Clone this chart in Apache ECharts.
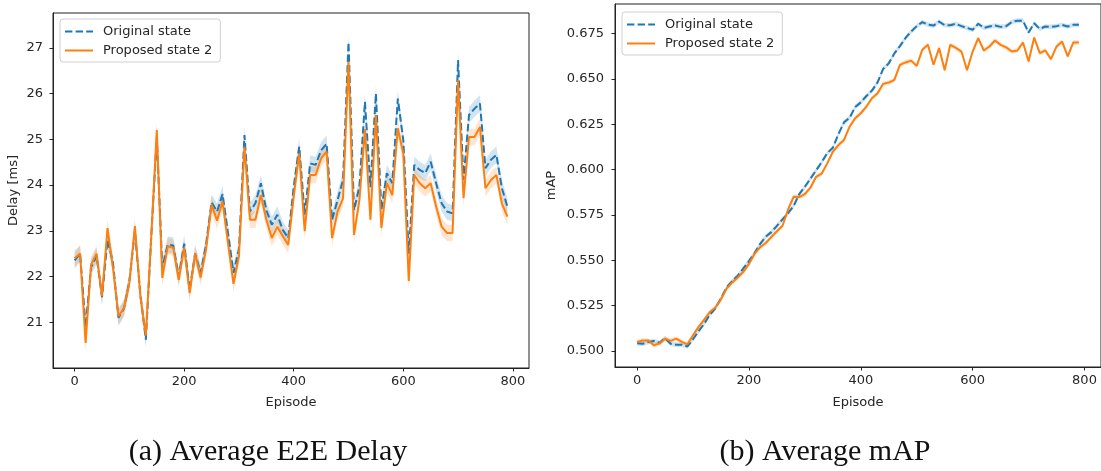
<!DOCTYPE html>
<html>
<head>
<meta charset="utf-8">
<script src="https://cdn.jsdelivr.net/npm/echarts@6/dist/echarts.min.js"></script>
<style>
html,body{margin:0;padding:0;background:#fff;}
#chart{width:1101px;height:471px;}
</style>
</head>
<body>
<div id="chart"></div>
<script>
// ---------- DATA ----------
const episodes = [0,10,20,30,40,50,60,70,80,90,100,110,120,130,140,150,160,170,180,190,
  200,210,220,230,240,250,260,270,280,290,300,310,320,330,340,350,360,370,380,390,
  400,410,420,430,440,450,460,470,480,490,500,510,520,530,540,550,560,570,580,590,
  600,610,620,630,640,650,660,670,680,690,700,710,720,730,740,750,760,770,780,790];

const delayOriginal = [22.35,22.50,20.90,22.20,22.45,21.55,22.80,22.30,21.10,21.30,
  21.90,23.00,21.60,20.62,22.90,25.05,22.20,22.70,22.68,22.00,
  22.72,21.70,22.50,22.08,22.70,23.62,23.42,23.80,22.95,22.08,
  22.60,25.09,23.42,23.60,24.04,23.45,23.13,23.35,23.02,22.84,
  23.96,24.84,23.35,24.47,24.44,24.76,24.90,23.24,23.67,24.11,
  27.12,23.45,23.97,25.82,23.95,26.00,23.46,24.26,24.04,25.89,
  24.98,22.50,24.44,24.33,24.26,24.51,24.04,23.60,23.42,23.38,
  26.73,24.11,25.53,25.67,25.78,24.37,24.55,24.66,23.93,23.53];

const delayProposed = [22.40,22.50,20.55,22.26,22.50,21.57,23.06,22.19,21.13,21.31,
  21.86,23.10,21.57,20.71,22.90,25.20,21.97,22.66,22.63,21.93,
  22.63,21.64,22.50,21.98,22.60,23.57,23.22,23.64,22.73,21.84,
  22.44,24.84,23.24,23.24,23.78,23.24,22.84,23.09,22.88,22.69,
  23.75,24.69,22.99,24.22,24.22,24.58,24.73,22.84,23.42,23.71,
  26.70,22.91,23.68,25.22,23.24,25.53,23.06,24.04,23.78,25.24,
  24.69,21.90,24.22,24.04,23.93,24.04,23.53,23.09,22.95,22.95,
  26.29,23.71,25.05,25.05,25.27,23.93,24.11,24.22,23.60,23.31];

const mapOriginal = [0.5043,0.5040,0.5050,0.5055,0.5045,0.5070,0.5040,0.5035,0.5035,0.5025,
  0.5065,0.5110,0.5150,0.5200,0.5235,0.5290,0.5350,0.5385,0.5415,0.5455,
  0.5495,0.5540,0.5590,0.5630,0.5655,0.5690,0.5725,0.5760,0.5800,0.5865,
  0.5905,0.5950,0.5995,0.6040,0.6090,0.6120,0.6195,0.6260,0.6285,0.6345,
  0.6370,0.6405,0.6435,0.6480,0.6555,0.6585,0.6640,0.6680,0.6725,0.6760,
  0.6790,0.6812,0.6798,0.6793,0.6815,0.6795,0.6795,0.6803,0.6790,0.6780,
  0.6770,0.6803,0.6780,0.6788,0.6793,0.6786,0.6790,0.6813,0.6820,0.6820,
  0.6755,0.6806,0.6775,0.6788,0.6786,0.6790,0.6797,0.6788,0.6797,0.6797];

const mapProposed = [0.5050,0.5058,0.5058,0.5032,0.5042,0.5068,0.5056,0.5068,0.5050,0.5037,
  0.5087,0.5133,0.5173,0.5215,0.5240,0.5285,0.5344,0.5378,0.5405,0.5436,
  0.5480,0.5535,0.5572,0.5595,0.5628,0.5660,0.5690,0.5780,0.5850,0.5848,
  0.5865,0.5900,0.5960,0.5977,0.6034,0.6098,0.6135,0.6163,0.6236,0.6283,
  0.6310,0.6347,0.6393,0.6420,0.6472,0.6479,0.6494,0.6577,0.6590,0.6600,
  0.6571,0.6660,0.6687,0.6577,0.6669,0.6547,0.6687,0.6670,0.6650,0.6547,
  0.6650,0.6724,0.6656,0.6678,0.6711,0.6687,0.6673,0.6650,0.6656,0.6700,
  0.6595,0.6727,0.6641,0.6656,0.6608,0.6678,0.6705,0.6623,0.6700,0.6700];

// confidence band half-widths (estimated)
const delayBand = 0.18;
const mapBand = 0.0013;

const xTicks = [0,200,400,600,800];
const delayTicks = [21,22,23,24,25,26,27];
const mapTicks = [0.500,0.525,0.550,0.575,0.600,0.625,0.650,0.675];

const seriesNames = ['Original state','Proposed state 2'];
const captions = ['(a) Average E2E Delay','(b) Average mAP'];
const axisNames = {x:'Episode', y1:'Delay [ms]', y2:'mAP'};

// ---------- BUILD ----------
const BLUE = '#1f77b4', ORANGE = '#ff7f0e';
const TXT = '#262626';
const FONT = 'DejaVu Sans';

function pairs(vals){ return episodes.map((e,i)=>[e, vals[i]]); }

function bandSeries(gi, vals, w, color){
  return {type:'custom', xAxisIndex:gi, yAxisIndex:gi, silent:true, z:1,
    data:[[episodes[0], vals[0]]],
    renderItem:function(params, api){
      const up = episodes.map((e,i)=>api.coord([e, vals[i]+w]));
      const lo = episodes.map((e,i)=>api.coord([e, vals[i]-w])).reverse();
      return {type:'polygon', shape:{points: up.concat(lo)},
        style:{fill:color, opacity:0.2, stroke:null}};
    }};
}
function mainSeries(gi, name, vals, color, dashed, z){
  return {type:'line', name:name, xAxisIndex:gi, yAxisIndex:gi, symbol:'none',
    lineStyle:{color:color, width:2, type: dashed ? [7.4,3.2] : 'solid'},
    itemStyle:{color:color}, data:pairs(vals), z:z};
}

function xAxisCfg(gi, gap){
  return {type:'value', gridIndex:gi, min:-39.5, max:829.5,
    name:axisNames.x, nameLocation:'middle', nameGap:gap,
    nameTextStyle:{fontFamily:FONT, fontSize:13, color:TXT},
    axisLine:{show:true, onZero:false, lineStyle:{color:'#222', width:1}},
    axisTick:{show:true, length:3.5, lineStyle:{color:'#222'}, customValues:xTicks},
    axisLabel:{fontFamily:FONT, fontSize:13, color:TXT, margin:7, customValues:xTicks},
    splitLine:{show:false}};
}
function yAxisCfg(gi, min, max, ticks, name, gap, fmt, margin){
  return {type:'value', gridIndex:gi, min:min, max:max,
    name:name, nameLocation:'middle', nameGap:gap,
    nameTextStyle:{fontFamily:FONT, fontSize:13, color:TXT},
    axisLine:{show:true, onZero:false, lineStyle:{color:'#222', width:1}},
    axisTick:{show:true, length:3.5, lineStyle:{color:'#222'}, customValues:ticks},
    axisLabel:{fontFamily:FONT, fontSize:13, color:TXT, margin:margin, customValues:ticks, formatter:fmt},
    splitLine:{show:false}};
}
function legendCfg(left, top){
  return {left:left, top:top, orient:'vertical', data:seriesNames,
    itemWidth:28, itemHeight:14, itemGap:6, padding:[6,8,5,4],
    backgroundColor:'rgba(255,255,255,0.85)', borderColor:'#d0d0d0', borderWidth:1, borderRadius:3,
    selectedMode:false,
    itemStyle:{color:'rgba(0,0,0,0)', borderWidth:0, borderColor:'rgba(0,0,0,0)'},
    textStyle:{fontFamily:FONT, fontSize:13, color:TXT, padding:[0,0,0,5]}};
}

const chart = echarts.init(document.getElementById('chart'), null, {renderer:'canvas'});
const option = {
  animation:false,
  backgroundColor:'#ffffff',
  grid:[
    {left:53, top:13, width:476, height:355, show:true, borderColor:'#222', borderWidth:1, backgroundColor:'transparent'},
    {left:615, top:4, width:487, height:363, show:true, borderColor:'#222', borderWidth:1, backgroundColor:'transparent'}
  ],
  xAxis:[xAxisCfg(0,28), xAxisCfg(1,29)],
  yAxis:[
    yAxisCfg(0, 20.0, 27.76, delayTicks, axisNames.y1, 33, v=>String(v), 10),
    yAxisCfg(1, 0.4912, 0.6912, mapTicks, axisNames.y2, 57, v=>v.toFixed(3), 11)
  ],
  legend:[legendCfg(60,19), legendCfg(622,12)],
  series:[
    bandSeries(0, delayOriginal, delayBand, BLUE),
    mainSeries(0, seriesNames[0], delayOriginal, BLUE, true, 2),
    bandSeries(0, delayProposed, delayBand, ORANGE),
    mainSeries(0, seriesNames[1], delayProposed, ORANGE, false, 3),
    bandSeries(1, mapOriginal, mapBand, BLUE),
    mainSeries(1, seriesNames[0], mapOriginal, BLUE, true, 2),
    bandSeries(1, mapProposed, mapBand, ORANGE),
    mainSeries(1, seriesNames[1], mapProposed, ORANGE, false, 3)
  ],
  graphic:[
    {type:'text', x:268, y:452, style:{text:captions[0], align:'center', verticalAlign:'middle',
      font:'30px "Liberation Serif"', fill:'#111'}},
    {type:'text', x:825, y:452, style:{text:captions[1], align:'center', verticalAlign:'middle',
      font:'30px "Liberation Serif"', fill:'#111'}}
  ]
};
chart.setOption(option);
</script>
</body>
</html>
